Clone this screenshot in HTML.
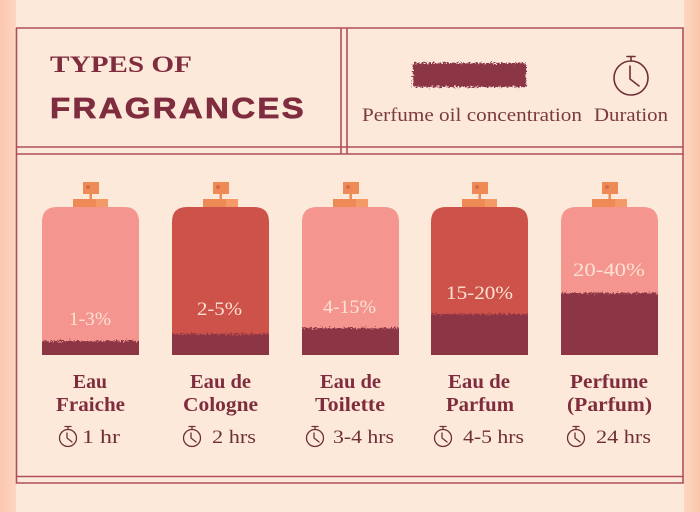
<!DOCTYPE html>
<html><head><meta charset="utf-8"><style>
html,body{margin:0;padding:0;background:#fde9da;}
svg{display:block;}
</style></head><body>
<svg width="700" height="512" viewBox="0 0 700 512" xmlns="http://www.w3.org/2000/svg">
<defs>
<linearGradient id="lg" x1="0" x2="1" y1="0" y2="0"><stop offset="0" stop-color="#fbc7ad"/><stop offset="1" stop-color="#fcd5c1"/></linearGradient>
<linearGradient id="rg" x1="0" x2="1" y1="0" y2="0"><stop offset="0" stop-color="#fcd6c2"/><stop offset="1" stop-color="#fbc6ab"/></linearGradient>
<filter id="rough" x="-10%" y="-20%" width="120%" height="140%">
<feTurbulence type="fractalNoise" baseFrequency="0.55" numOctaves="2" seed="4" result="n"/>
<feDisplacementMap in="SourceGraphic" in2="n" scale="7" xChannelSelector="R" yChannelSelector="G"/>
</filter>
<clipPath id="c0"><path d="M42 355 V222 Q42 207 57 207 H124 Q139 207 139 222 V355 Z"/></clipPath>
<clipPath id="c1"><path d="M172 355 V222 Q172 207 187 207 H254 Q269 207 269 222 V355 Z"/></clipPath>
<clipPath id="c2"><path d="M302 355 V222 Q302 207 317 207 H384 Q399 207 399 222 V355 Z"/></clipPath>
<clipPath id="c3"><path d="M431 355 V222 Q431 207 446 207 H513 Q528 207 528 222 V355 Z"/></clipPath>
<clipPath id="c4"><path d="M561 355 V222 Q561 207 576 207 H643 Q658 207 658 222 V355 Z"/></clipPath>
</defs>
<rect x="0" y="0" width="700" height="512" fill="#fde9da"/>
<rect x="0" y="0" width="16" height="512" fill="url(#lg)"/>
<rect x="684" y="0" width="16" height="512" fill="url(#rg)"/>

<g stroke="#b04f57" stroke-width="1.6" fill="none">
<line x1="16.5" y1="28" x2="16.5" y2="483.5"/>
<line x1="683" y1="28" x2="683" y2="483.5"/>
<line x1="16" y1="28" x2="683.8" y2="28"/>
<line x1="16" y1="147" x2="683.8" y2="147"/>
<line x1="16" y1="154" x2="683.8" y2="154"/>
<line x1="341" y1="28" x2="341" y2="154"/>
<line x1="347" y1="28" x2="347" y2="154"/>
<line x1="16" y1="476.5" x2="683.8" y2="476.5"/>
<line x1="16" y1="483" x2="683.8" y2="483"/>
</g>

<text x="50" y="72" font-family="Liberation Serif, serif" font-weight="bold" font-size="23" fill="#7f2d3e" textLength="142" lengthAdjust="spacingAndGlyphs">TYPES OF</text>
<text x="50" y="118" font-family="Liberation Sans, sans-serif" font-weight="bold" font-size="28.5" letter-spacing="2" fill="#7f2d3e" stroke="#7f2d3e" stroke-width="0.7" textLength="256" lengthAdjust="spacingAndGlyphs">FRAGRANCES</text>

<rect x="413" y="63" width="113" height="24" fill="#8b3444" filter="url(#rough)"/>
<g stroke="#6e3036" stroke-width="1.6" fill="none" stroke-linecap="round">
<circle cx="631" cy="78" r="17"/>
<line x1="631" y1="61" x2="631" y2="57"/>
<line x1="627" y1="56.5" x2="635" y2="56.5"/>
<polyline points="630,66 630,79 639,86"/>
</g>
<text x="362" y="121" font-family="Liberation Serif, serif" font-size="19" fill="#7a3a40" textLength="220" lengthAdjust="spacingAndGlyphs">Perfume oil concentration</text>
<text x="594" y="121" font-family="Liberation Serif, serif" font-size="19" fill="#7a3a40" textLength="74" lengthAdjust="spacingAndGlyphs">Duration</text>

<g>
<g fill="#ee8a56">
<rect x="73" y="199" width="35" height="9"/><rect x="83" y="182" width="16" height="12"/><rect x="89.5" y="194" width="2.5" height="5"/>
<rect x="203" y="199" width="35" height="9"/><rect x="213" y="182" width="16" height="12"/><rect x="219.5" y="194" width="2.5" height="5"/>
<rect x="333" y="199" width="35" height="9"/><rect x="343" y="182" width="16" height="12"/><rect x="349.5" y="194" width="2.5" height="5"/>
<rect x="462" y="199" width="35" height="9"/><rect x="472" y="182" width="16" height="12"/><rect x="478.5" y="194" width="2.5" height="5"/>
<rect x="592" y="199" width="35" height="9"/><rect x="602" y="182" width="16" height="12"/><rect x="608.5" y="194" width="2.5" height="5"/>
</g>
<g fill="#f39a66">
<rect x="96" y="199" width="12" height="9"/><rect x="226" y="199" width="12" height="9"/><rect x="356" y="199" width="12" height="9"/><rect x="485" y="199" width="12" height="9"/><rect x="615" y="199" width="12" height="9"/>
</g>
<g fill="#d8694e">
<circle cx="88" cy="187" r="2"/><circle cx="218" cy="187" r="2"/><circle cx="348" cy="187" r="2"/><circle cx="477" cy="187" r="2"/><circle cx="607" cy="187" r="2"/>
</g>

<g clip-path="url(#c0)"><rect x="42" y="207" width="97" height="148" fill="#f4958f"/><rect x="30" y="341" width="121" height="30" fill="#8b3444" filter="url(#rough)"/></g>
<g clip-path="url(#c1)"><rect x="172" y="207" width="97" height="148" fill="#cd5249"/><rect x="160" y="334" width="121" height="40" fill="#8b3444" filter="url(#rough)"/></g>
<g clip-path="url(#c2)"><rect x="302" y="207" width="97" height="148" fill="#f4958f"/><rect x="290" y="328" width="121" height="40" fill="#8b3444" filter="url(#rough)"/></g>
<g clip-path="url(#c3)"><rect x="431" y="207" width="97" height="148" fill="#cd5249"/><rect x="419" y="314" width="121" height="60" fill="#8b3444" filter="url(#rough)"/></g>
<g clip-path="url(#c4)"><rect x="561" y="207" width="97" height="148" fill="#f4958f"/><rect x="549" y="293" width="121" height="80" fill="#8b3444" filter="url(#rough)"/></g>

<g font-family="Liberation Serif, serif" font-size="19" fill="#fde2d2">
<text x="69" y="325" textLength="42" lengthAdjust="spacingAndGlyphs">1-3%</text>
<text x="197" y="315" textLength="45" lengthAdjust="spacingAndGlyphs">2-5%</text>
<text x="323" y="313" textLength="53" lengthAdjust="spacingAndGlyphs">4-15%</text>
<text x="446" y="299" textLength="67" lengthAdjust="spacingAndGlyphs">15-20%</text>
<text x="573" y="276" textLength="72" lengthAdjust="spacingAndGlyphs">20-40%</text>
</g>
</g>

<g font-family="Liberation Serif, serif" font-weight="bold" font-size="19.5" fill="#7f2d3e">
<text x="73" y="388" textLength="34" lengthAdjust="spacingAndGlyphs">Eau</text>
<text x="56" y="411" textLength="69" lengthAdjust="spacingAndGlyphs">Fraiche</text>
<text x="190" y="388" textLength="61" lengthAdjust="spacingAndGlyphs">Eau de</text>
<text x="183" y="411" textLength="75" lengthAdjust="spacingAndGlyphs">Cologne</text>
<text x="320" y="388" textLength="61" lengthAdjust="spacingAndGlyphs">Eau de</text>
<text x="315" y="411" textLength="70" lengthAdjust="spacingAndGlyphs">Toilette</text>
<text x="448" y="388" textLength="62" lengthAdjust="spacingAndGlyphs">Eau de</text>
<text x="446" y="411" textLength="68" lengthAdjust="spacingAndGlyphs">Parfum</text>
<text x="570" y="388" textLength="78" lengthAdjust="spacingAndGlyphs">Perfume</text>
<text x="567" y="411" textLength="85" lengthAdjust="spacingAndGlyphs">(Parfum)</text>
</g>

<g stroke="#6e3036" stroke-width="1.3" fill="none" stroke-linecap="round">
<g transform="translate(68,438)"><circle r="8.5"/><line x1="0" y1="-8.5" x2="0" y2="-11"/><line x1="-3" y1="-11.5" x2="3" y2="-11.5"/><polyline points="-1,-5 -1,0 4,4"/></g>
<g transform="translate(192,438)"><circle r="8.5"/><line x1="0" y1="-8.5" x2="0" y2="-11"/><line x1="-3" y1="-11.5" x2="3" y2="-11.5"/><polyline points="-1,-5 -1,0 4,4"/></g>
<g transform="translate(315,438)"><circle r="8.5"/><line x1="0" y1="-8.5" x2="0" y2="-11"/><line x1="-3" y1="-11.5" x2="3" y2="-11.5"/><polyline points="-1,-5 -1,0 4,4"/></g>
<g transform="translate(443,438)"><circle r="8.5"/><line x1="0" y1="-8.5" x2="0" y2="-11"/><line x1="-3" y1="-11.5" x2="3" y2="-11.5"/><polyline points="-1,-5 -1,0 4,4"/></g>
<g transform="translate(576,438)"><circle r="8.5"/><line x1="0" y1="-8.5" x2="0" y2="-11"/><line x1="-3" y1="-11.5" x2="3" y2="-11.5"/><polyline points="-1,-5 -1,0 4,4"/></g>
</g>
<g font-family="Liberation Serif, serif" font-size="19" fill="#6e3036">
<text x="82" y="443" textLength="38" lengthAdjust="spacingAndGlyphs">1 hr</text>
<text x="212" y="443" textLength="44" lengthAdjust="spacingAndGlyphs">2 hrs</text>
<text x="333" y="443" textLength="61" lengthAdjust="spacingAndGlyphs">3-4 hrs</text>
<text x="463" y="443" textLength="61" lengthAdjust="spacingAndGlyphs">4-5 hrs</text>
<text x="596" y="443" textLength="55" lengthAdjust="spacingAndGlyphs">24 hrs</text>
</g>
</svg>
</body></html>
